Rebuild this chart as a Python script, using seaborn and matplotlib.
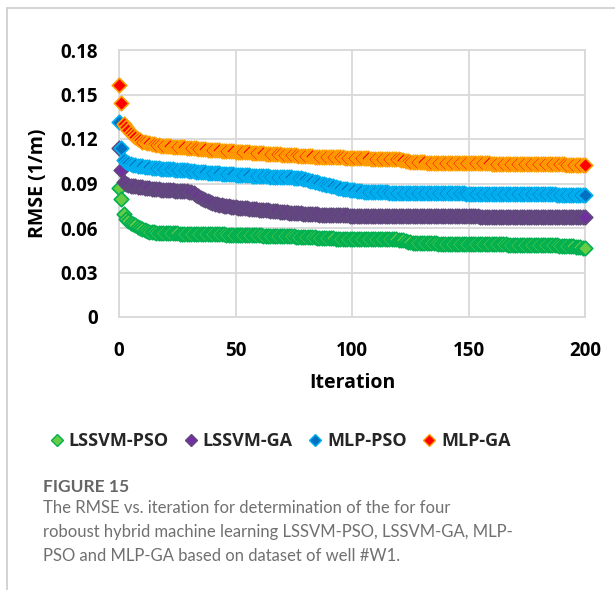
import matplotlib
matplotlib.use("Agg")
import matplotlib.pyplot as plt
from matplotlib.lines import Line2D
import seaborn as sns
import pandas as pd

iterations = list(range(0, 201))

mlp_ga = [
    0.1564, 0.1445, 0.1300, 0.1278, 0.1258, 0.1240, 0.1225, 0.1212, 0.1200, 0.1190,
    0.1183, 0.1178, 0.1174, 0.1170, 0.1166, 0.1163, 0.1160, 0.1158, 0.1156, 0.1154,
    0.1152, 0.1151, 0.1150, 0.1149, 0.1148, 0.1147, 0.1146, 0.1145, 0.1144, 0.1142,
    0.1140, 0.1139, 0.1137, 0.1136, 0.1135, 0.1133, 0.1132, 0.1131, 0.1129, 0.1128,
    0.1127, 0.1126, 0.1125, 0.1124, 0.1122, 0.1121, 0.1120, 0.1119, 0.1118, 0.1116,
    0.1115, 0.1114, 0.1113, 0.1112, 0.1111, 0.1110, 0.1109, 0.1108, 0.1107, 0.1106,
    0.1105, 0.1104, 0.1103, 0.1102, 0.1101, 0.1100, 0.1099, 0.1098, 0.1097, 0.1096,
    0.1095, 0.1094, 0.1093, 0.1092, 0.1091, 0.1090, 0.1089, 0.1088, 0.1087, 0.1086,
    0.1085, 0.1084, 0.1084, 0.1083, 0.1082, 0.1082, 0.1081, 0.1080, 0.1080, 0.1079,
    0.1079, 0.1078, 0.1078, 0.1077, 0.1077, 0.1076, 0.1076, 0.1075, 0.1075, 0.1075,
    0.1074, 0.1074, 0.1073, 0.1072, 0.1071, 0.1070, 0.1070, 0.1069, 0.1068, 0.1068,
    0.1067, 0.1067, 0.1066, 0.1066, 0.1065, 0.1065, 0.1064, 0.1064, 0.1063, 0.1063,
    0.1062, 0.1061, 0.1058, 0.1054, 0.1050, 0.1047, 0.1045, 0.1044, 0.1043, 0.1043,
    0.1042, 0.1042, 0.1041, 0.1041, 0.1041, 0.1040, 0.1040, 0.1040, 0.1039, 0.1039,
    0.1039, 0.1039, 0.1038, 0.1038, 0.1038, 0.1038, 0.1037, 0.1037, 0.1037, 0.1037,
    0.1037, 0.1036, 0.1036, 0.1036, 0.1036, 0.1035, 0.1035, 0.1035, 0.1035, 0.1035,
    0.1034, 0.1034, 0.1034, 0.1034, 0.1034, 0.1033, 0.1033, 0.1033, 0.1033, 0.1033,
    0.1032, 0.1032, 0.1032, 0.1032, 0.1032, 0.1031, 0.1031, 0.1031, 0.1031, 0.1031,
    0.1030, 0.1030, 0.1030, 0.1030, 0.1030, 0.1030, 0.1029, 0.1029, 0.1029, 0.1029,
    0.1029, 0.1029, 0.1028, 0.1028, 0.1028, 0.1028, 0.1028, 0.1027, 0.1027, 0.1027, 0.1026,
]

mlp_pso = [
    0.1316, 0.1137, 0.1058, 0.1045, 0.1036, 0.1030, 0.1026, 0.1022, 0.1019, 0.1017,
    0.1015, 0.1013, 0.1011, 0.1009, 0.1007, 0.1005, 0.1003, 0.1002, 0.1000, 0.0999,
    0.0998, 0.0997, 0.0996, 0.0995, 0.0994, 0.0993, 0.0992, 0.0991, 0.0990, 0.0988,
    0.0986, 0.0984, 0.0982, 0.0980, 0.0979, 0.0978, 0.0976, 0.0975, 0.0974, 0.0972,
    0.0971, 0.0970, 0.0969, 0.0968, 0.0967, 0.0966, 0.0965, 0.0964, 0.0962, 0.0961,
    0.0960, 0.0959, 0.0958, 0.0957, 0.0956, 0.0955, 0.0954, 0.0953, 0.0953, 0.0952,
    0.0951, 0.0950, 0.0949, 0.0948, 0.0948, 0.0947, 0.0946, 0.0945, 0.0945, 0.0944,
    0.0943, 0.0943, 0.0942, 0.0941, 0.0941, 0.0940, 0.0939, 0.0937, 0.0935, 0.0932,
    0.0928, 0.0924, 0.0920, 0.0916, 0.0912, 0.0908, 0.0904, 0.0900, 0.0896, 0.0892,
    0.0888, 0.0884, 0.0880, 0.0876, 0.0872, 0.0869, 0.0866, 0.0863, 0.0860, 0.0857,
    0.0855, 0.0853, 0.0851, 0.0849, 0.0847, 0.0846, 0.0845, 0.0844, 0.0843, 0.0842,
    0.0842, 0.0841, 0.0841, 0.0840, 0.0840, 0.0840, 0.0839, 0.0839, 0.0839, 0.0838,
    0.0838, 0.0838, 0.0838, 0.0837, 0.0837, 0.0837, 0.0837, 0.0836, 0.0836, 0.0836,
    0.0836, 0.0836, 0.0835, 0.0835, 0.0835, 0.0835, 0.0835, 0.0834, 0.0834, 0.0834,
    0.0834, 0.0834, 0.0834, 0.0833, 0.0833, 0.0833, 0.0833, 0.0833, 0.0833, 0.0832,
    0.0832, 0.0832, 0.0832, 0.0832, 0.0832, 0.0831, 0.0831, 0.0831, 0.0831, 0.0831,
    0.0831, 0.0830, 0.0830, 0.0830, 0.0830, 0.0830, 0.0830, 0.0829, 0.0829, 0.0829,
    0.0829, 0.0829, 0.0829, 0.0828, 0.0828, 0.0828, 0.0828, 0.0828, 0.0827, 0.0827,
    0.0827, 0.0827, 0.0827, 0.0826, 0.0826, 0.0826, 0.0826, 0.0826, 0.0825, 0.0825,
    0.0825, 0.0825, 0.0824, 0.0824, 0.0824, 0.0824, 0.0823, 0.0823, 0.0823, 0.0822, 0.0822,
]

lssvm_ga = [
    0.1137, 0.0990, 0.0912, 0.0898, 0.0890, 0.0885, 0.0882, 0.0880, 0.0878, 0.0876,
    0.0874, 0.0872, 0.0870, 0.0868, 0.0866, 0.0864, 0.0862, 0.0860, 0.0858, 0.0857,
    0.0856, 0.0855, 0.0854, 0.0853, 0.0852, 0.0851, 0.0850, 0.0849, 0.0848, 0.0847,
    0.0845, 0.0842, 0.0835, 0.0825, 0.0814, 0.0804, 0.0795, 0.0787, 0.0780, 0.0774,
    0.0769, 0.0764, 0.0760, 0.0756, 0.0753, 0.0750, 0.0747, 0.0745, 0.0743, 0.0741,
    0.0740, 0.0738, 0.0737, 0.0735, 0.0734, 0.0732, 0.0731, 0.0729, 0.0727, 0.0725,
    0.0723, 0.0722, 0.0721, 0.0719, 0.0718, 0.0716, 0.0715, 0.0713, 0.0712, 0.0710,
    0.0709, 0.0707, 0.0706, 0.0704, 0.0702, 0.0701, 0.0700, 0.0699, 0.0698, 0.0697,
    0.0696, 0.0695, 0.0694, 0.0694, 0.0693, 0.0692, 0.0691, 0.0691, 0.0690, 0.0690,
    0.0689, 0.0688, 0.0688, 0.0687, 0.0687, 0.0686, 0.0686, 0.0685, 0.0685, 0.0684,
    0.0684, 0.0683, 0.0683, 0.0683, 0.0682, 0.0682, 0.0682, 0.0682, 0.0681, 0.0681,
    0.0681, 0.0681, 0.0681, 0.0680, 0.0680, 0.0680, 0.0680, 0.0680, 0.0680, 0.0680,
    0.0680, 0.0680, 0.0679, 0.0679, 0.0679, 0.0679, 0.0679, 0.0679, 0.0679, 0.0679,
    0.0679, 0.0679, 0.0679, 0.0679, 0.0679, 0.0678, 0.0678, 0.0678, 0.0678, 0.0678,
    0.0678, 0.0678, 0.0678, 0.0678, 0.0678, 0.0678, 0.0678, 0.0678, 0.0678, 0.0678,
    0.0678, 0.0678, 0.0678, 0.0678, 0.0678, 0.0677, 0.0677, 0.0677, 0.0677, 0.0677,
    0.0677, 0.0677, 0.0677, 0.0677, 0.0677, 0.0677, 0.0677, 0.0677, 0.0677, 0.0677,
    0.0677, 0.0677, 0.0677, 0.0677, 0.0677, 0.0677, 0.0677, 0.0677, 0.0677, 0.0677,
    0.0677, 0.0676, 0.0676, 0.0676, 0.0676, 0.0676, 0.0676, 0.0676, 0.0676, 0.0676,
    0.0676, 0.0676, 0.0676, 0.0676, 0.0676, 0.0676, 0.0676, 0.0676, 0.0676, 0.0676, 0.0676,
]

lssvm_pso = [
    0.0867, 0.0793, 0.0693, 0.0662, 0.0648, 0.0637, 0.0627, 0.0617, 0.0607, 0.0598,
    0.0590, 0.0584, 0.0579, 0.0575, 0.0572, 0.0570, 0.0568, 0.0567, 0.0566, 0.0565,
    0.0565, 0.0564, 0.0564, 0.0563, 0.0563, 0.0563, 0.0562, 0.0562, 0.0562, 0.0561,
    0.0561, 0.0561, 0.0560, 0.0560, 0.0560, 0.0559, 0.0559, 0.0559, 0.0558, 0.0558,
    0.0558, 0.0558, 0.0557, 0.0557, 0.0557, 0.0557, 0.0556, 0.0556, 0.0556, 0.0556,
    0.0555, 0.0555, 0.0554, 0.0554, 0.0553, 0.0553, 0.0552, 0.0552, 0.0551, 0.0551,
    0.0550, 0.0550, 0.0549, 0.0549, 0.0548, 0.0548, 0.0547, 0.0547, 0.0546, 0.0546,
    0.0545, 0.0545, 0.0544, 0.0544, 0.0543, 0.0543, 0.0542, 0.0542, 0.0541, 0.0541,
    0.0540, 0.0539, 0.0538, 0.0537, 0.0536, 0.0535, 0.0534, 0.0533, 0.0532, 0.0531,
    0.0531, 0.0530, 0.0530, 0.0529, 0.0529, 0.0528, 0.0528, 0.0528, 0.0527, 0.0527,
    0.0527, 0.0526, 0.0526, 0.0526, 0.0526, 0.0525, 0.0525, 0.0525, 0.0525, 0.0525,
    0.0524, 0.0524, 0.0524, 0.0524, 0.0524, 0.0523, 0.0523, 0.0523, 0.0523, 0.0523,
    0.0522, 0.0521, 0.0517, 0.0512, 0.0507, 0.0503, 0.0500, 0.0499, 0.0498, 0.0498,
    0.0497, 0.0497, 0.0497, 0.0496, 0.0496, 0.0496, 0.0496, 0.0495, 0.0495, 0.0495,
    0.0495, 0.0494, 0.0494, 0.0494, 0.0494, 0.0493, 0.0493, 0.0493, 0.0493, 0.0492,
    0.0492, 0.0492, 0.0492, 0.0492, 0.0491, 0.0491, 0.0491, 0.0491, 0.0491, 0.0490,
    0.0490, 0.0490, 0.0490, 0.0489, 0.0489, 0.0489, 0.0489, 0.0488, 0.0488, 0.0488,
    0.0488, 0.0488, 0.0487, 0.0487, 0.0487, 0.0487, 0.0487, 0.0486, 0.0486, 0.0486,
    0.0486, 0.0486, 0.0485, 0.0485, 0.0485, 0.0484, 0.0484, 0.0483, 0.0483, 0.0482,
    0.0481, 0.0480, 0.0479, 0.0478, 0.0477, 0.0476, 0.0474, 0.0472, 0.0470, 0.0468, 0.0465,
]

series_names = ["LSSVM-PSO", "LSSVM-GA", "MLP-PSO", "MLP-GA"]
series_values = [lssvm_pso, lssvm_ga, mlp_pso, mlp_ga]
x_ticks = [0, 50, 100, 150, 200]
y_ticks = [0, 0.03, 0.06, 0.09, 0.12, 0.15, 0.18]
y_tick_labels = ["0", "0.03", "0.06", "0.09", "0.12", "0.15", "0.18"]

face_colors = ["#66CC44", "#7030A0", "#0070C0", "#FF0000"]
edge_colors = ["#00B050", "#604A7B", "#00B0F0", "#FFA000"]

sns.set_theme(style="white")
plt.rcParams["font.family"] = ["Open Sans", "DejaVu Sans"]

fig = plt.figure(figsize=(6.15, 5.9), dpi=100)
ax = fig.add_axes([119 / 615, 1 - 317 / 590, (585 - 119) / 615, (317 - 50) / 590])

for name, vals, fc, ec in zip(series_names, series_values, face_colors, edge_colors):
    df = pd.DataFrame({"Iteration": iterations, "RMSE": vals})
    sns.scatterplot(data=df, x="Iteration", y="RMSE", marker="D", s=55,
                    color=fc, edgecolor=ec, linewidth=1.2, ax=ax, zorder=3,
                    clip_on=False)

ax.set_xlim(0, 200)
ax.set_ylim(0, 0.18)
ax.set_xticks(x_ticks)
ax.set_yticks(y_ticks)
ax.set_yticklabels(y_tick_labels)
ax.grid(True, color="#D9D9D9", linewidth=1.3)
ax.set_axisbelow(True)
for sp in ax.spines.values():
    sp.set_color("#D9D9D9")
    sp.set_linewidth(1.3)
ax.tick_params(axis="both", length=0, labelsize=13.5, colors="black")
ax.tick_params(axis="y", pad=15)
ax.tick_params(axis="x", pad=17)
for lab in ax.get_xticklabels() + ax.get_yticklabels():
    lab.set_fontweight("bold")
ax.set_xlabel("Iteration", fontsize=14, fontweight="bold", color="black", labelpad=9)
ax.set_ylabel("RMSE (1/m)", fontsize=14, fontweight="bold", color="black", labelpad=9)

handles = [Line2D([0], [0], marker="D", linestyle="none", markersize=6.5,
                  markerfacecolor=fc, markeredgecolor=ec, markeredgewidth=1.0)
           for fc, ec in zip(face_colors, edge_colors)]
fig.legend(handles, series_names, loc="center", bbox_to_anchor=(279 / 615, 1 - 441 / 590),
           ncol=4, frameon=False, handletextpad=0.15, columnspacing=0.75, handlelength=1.0,
           prop={"weight": "bold", "size": 13})

fig.text(43 / 615, 1 - 487 / 590, "FIGURE 15", fontsize=12.5, fontweight="bold",
         color="#666666", va="center", ha="left", family=["Lato", "DejaVu Sans"])
caption = ("The RMSE vs. iteration for determination of the for four\n"
           "roboust hybrid machine learning LSSVM-PSO, LSSVM-GA, MLP-\n"
           "PSO and MLP-GA based on dataset of well #W1.")
fig.text(43 / 615, 1 - 500 / 590, caption, fontsize=12, color="#707070",
         va="top", ha="left", linespacing=1.62, family=["Lato", "DejaVu Sans"])

fig.add_artist(Line2D([7 / 615, 1.0], [1 - 8 / 590, 1 - 8 / 590], color="#CCCCCC", linewidth=1.2))
fig.add_artist(Line2D([7 / 615, 7 / 615], [0, 1 - 8 / 590], color="#CCCCCC", linewidth=1.2))

fig.savefig("out.png", dpi=100)
